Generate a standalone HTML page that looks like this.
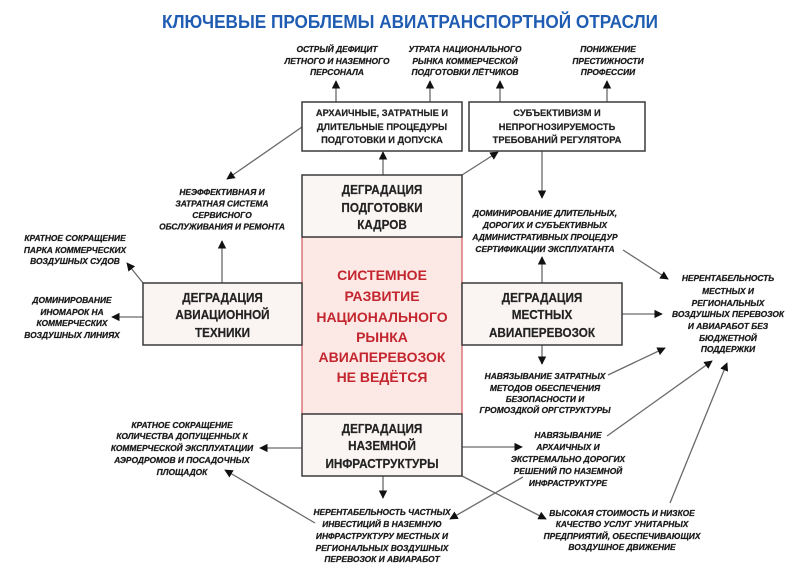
<!DOCTYPE html>
<html><head><meta charset="utf-8">
<style>
html,body{margin:0;padding:0;background:#fff;}
svg{display:block;}
.t{font-family:"Liberation Sans","DejaVu Sans",sans-serif;font-weight:bold;text-anchor:middle;}
.lb{font-size:8.4px;font-style:italic;fill:#1a1a1a;stroke:#1a1a1a;stroke-width:0.25;}
.bx{font-size:9.3px;fill:#222;stroke:#222;stroke-width:0.2;}
.dg{font-size:13.3px;fill:#222;stroke:#222;stroke-width:0.2;}
.rd{font-size:14px;fill:#c3262f;}
.ln{stroke:#6a6a6a;stroke-width:1.3;fill:none;}
</style></head>
<body>
<svg width="800" height="573" viewBox="0 0 800 573" xmlns="http://www.w3.org/2000/svg">
<defs>
<marker id="a" viewBox="0 0 10 10" refX="9" refY="5" markerWidth="8.5" markerHeight="8.5" markerUnits="userSpaceOnUse" orient="auto">
<path d="M0,0 L10,5 L0,10 z" fill="#111"/>
</marker>
</defs>

<!-- title -->
<text class="t" x="410" y="28" font-size="18" fill="#1f5cb2" textLength="496" lengthAdjust="spacingAndGlyphs">КЛЮЧЕВЫЕ ПРОБЛЕМЫ АВИАТРАНСПОРТНОЙ ОТРАСЛИ</text>

<!-- connectors -->
<g class="ln" marker-end="url(#a)">
<line x1="336" y1="102" x2="336" y2="81"/>
<line x1="430" y1="102" x2="430" y2="81"/>
<line x1="500" y1="102" x2="500" y2="81"/>
<line x1="607" y1="102" x2="607" y2="81"/>
<line x1="383" y1="175" x2="383" y2="152"/>
<line x1="462" y1="175" x2="498" y2="152"/>
<line x1="542" y1="151" x2="542" y2="198"/>
<line x1="302" y1="127" x2="227" y2="179"/>
<line x1="222" y1="283" x2="222" y2="241"/>
<line x1="143" y1="283" x2="127" y2="263"/>
<line x1="143" y1="317" x2="112" y2="317"/>
<line x1="542" y1="283" x2="542" y2="257"/>
<line x1="623" y1="250" x2="668" y2="279"/>
<line x1="622" y1="314" x2="662" y2="314"/>
<line x1="542" y1="345" x2="542" y2="364"/>
<line x1="608" y1="375" x2="665" y2="348"/>
<line x1="607" y1="436" x2="712" y2="361"/>
<line x1="670" y1="503" x2="727" y2="363"/>
<line x1="462" y1="447" x2="522" y2="447"/>
<line x1="523" y1="477" x2="450" y2="519"/>
<line x1="462" y1="476" x2="546" y2="519"/>
<line x1="383" y1="476" x2="383" y2="498"/>
<line x1="315" y1="523" x2="225" y2="470"/>
<line x1="302" y1="448" x2="260" y2="448"/>
</g>

<!-- top boxes -->
<rect x="302" y="102" width="160" height="49" fill="#fff" stroke="#3a3a3a" stroke-width="1.5"/>
<rect x="469" y="102" width="176" height="49" fill="#fff" stroke="#3a3a3a" stroke-width="1.5"/>
<g class="t bx">
<text x="382" y="116">АРХАИЧНЫЕ, ЗАТРАТНЫЕ И</text>
<text x="382" y="130">ДЛИТЕЛЬНЫЕ ПРОЦЕДУРЫ</text>
<text x="382" y="143">ПОДГОТОВКИ И ДОПУСКА</text>
<text x="557" y="116">СУБЪЕКТИВИЗМ И</text>
<text x="557" y="130">НЕПРОГНОЗИРУЕМОСТЬ</text>
<text x="557" y="143">ТРЕБОВАНИЙ РЕГУЛЯТОРА</text>
</g>

<!-- center stack -->
<rect x="302" y="237" width="160" height="177" fill="#fce9e5" stroke="#d2575a" stroke-width="1.2"/>
<rect x="302" y="175" width="160" height="62" fill="#faf6f4" stroke="#3a3a3a" stroke-width="1.5"/>
<rect x="302" y="414" width="160" height="62" fill="#faf4f2" stroke="#3a3a3a" stroke-width="1.5"/>
<!-- side boxes -->
<rect x="143" y="283" width="159" height="62" fill="#faf4f2" stroke="#3a3a3a" stroke-width="1.5"/>
<rect x="462" y="283" width="160" height="62" fill="#faf4f2" stroke="#3a3a3a" stroke-width="1.5"/>

<g class="t dg">
<g transform="translate(382,0) scale(0.88,1)">
<text x="0" y="194">ДЕГРАДАЦИЯ</text>
<text x="0" y="212">ПОДГОТОВКИ</text>
<text x="0" y="229">КАДРОВ</text>
<text x="0" y="433">ДЕГРАДАЦИЯ</text>
<text x="0" y="450">НАЗЕМНОЙ</text>
<text x="0" y="468">ИНФРАСТРУКТУРЫ</text>
</g>
<g transform="translate(222.5,0) scale(0.88,1)">
<text x="0" y="302">ДЕГРАДАЦИЯ</text>
<text x="0" y="319">АВИАЦИОННОЙ</text>
<text x="0" y="337">ТЕХНИКИ</text>
</g>
<g transform="translate(542,0) scale(0.88,1)">
<text x="0" y="302">ДЕГРАДАЦИЯ</text>
<text x="0" y="319">МЕСТНЫХ</text>
<text x="0" y="337">АВИАПЕРЕВОЗОК</text>
</g>
</g>

<g class="t rd">
<text x="382" y="280">СИСТЕМНОЕ</text>
<text x="382" y="301">РАЗВИТИЕ</text>
<text x="382" y="322">НАЦИОНАЛЬНОГО</text>
<text x="382" y="342">РЫНКА</text>
<text x="382" y="362">АВИАПЕРЕВОЗОК</text>
<text x="382" y="382">НЕ ВЕДЁТСЯ</text>
</g>

<!-- labels -->
<g class="t lb">
<text x="337" y="52">ОСТРЫЙ ДЕФИЦИТ</text>
<text x="337" y="64">ЛЕТНОГО И НАЗЕМНОГО</text>
<text x="337" y="75">ПЕРСОНАЛА</text>

<text x="465" y="52">УТРАТА НАЦИОНАЛЬНОГО</text>
<text x="465" y="64">РЫНКА КОММЕРЧЕСКОЙ</text>
<text x="465" y="75">ПОДГОТОВКИ ЛЁТЧИКОВ</text>

<text x="608" y="52">ПОНИЖЕНИЕ</text>
<text x="608" y="64">ПРЕСТИЖНОСТИ</text>
<text x="608" y="75">ПРОФЕССИИ</text>

<text x="222" y="195">НЕЭФФЕКТИВНАЯ И</text>
<text x="222" y="206.5">ЗАТРАТНАЯ СИСТЕМА</text>
<text x="222" y="218">СЕРВИСНОГО</text>
<text x="222" y="229.5">ОБСЛУЖИВАНИЯ И РЕМОНТА</text>

<text x="75" y="241">КРАТНОЕ СОКРАЩЕНИЕ</text>
<text x="75" y="253">ПАРКА КОММЕРЧЕСКИХ</text>
<text x="75" y="264">ВОЗДУШНЫХ СУДОВ</text>

<text x="72" y="303">ДОМИНИРОВАНИЕ</text>
<text x="72" y="315">ИНОМАРОК НА</text>
<text x="72" y="326">КОММЕРЧЕСКИХ</text>
<text x="72" y="338">ВОЗДУШНЫХ ЛИНИЯХ</text>

<text x="545" y="216">ДОМИНИРОВАНИЕ ДЛИТЕЛЬНЫХ,</text>
<text x="545" y="228">ДОРОГИХ И СУБЪЕКТИВНЫХ</text>
<text x="545" y="240">АДМИНИСТРАТИВНЫХ ПРОЦЕДУР</text>
<text x="545" y="252">СЕРТИФИКАЦИИ ЭКСПЛУАТАНТА</text>

<text x="728" y="281">НЕРЕНТАБЕЛЬНОСТЬ</text>
<text x="728" y="294">МЕСТНЫХ И</text>
<text x="728" y="306">РЕГИОНАЛЬНЫХ</text>
<text x="728" y="317">ВОЗДУШНЫХ ПЕРЕВОЗОК</text>
<text x="728" y="329">И АВИАРАБОТ БЕЗ</text>
<text x="728" y="341">БЮДЖЕТНОЙ</text>
<text x="728" y="352">ПОДДЕРЖКИ</text>

<text x="545" y="379">НАВЯЗЫВАНИЕ ЗАТРАТНЫХ</text>
<text x="545" y="391">МЕТОДОВ ОБЕСПЕЧЕНИЯ</text>
<text x="545" y="402">БЕЗОПАСНОСТИ И</text>
<text x="545" y="413">ГРОМОЗДКОЙ ОРГСТРУКТУРЫ</text>

<text x="568" y="438">НАВЯЗЫВАНИЕ</text>
<text x="568" y="450">АРХАИЧНЫХ И</text>
<text x="568" y="462">ЭКСТРЕМАЛЬНО ДОРОГИХ</text>
<text x="568" y="474">РЕШЕНИЙ ПО НАЗЕМНОЙ</text>
<text x="568" y="486">ИНФРАСТРУКТУРЕ</text>

<text x="622" y="516">ВЫСОКАЯ СТОИМОСТЬ И НИЗКОЕ</text>
<text x="622" y="527">КАЧЕСТВО УСЛУГ УНИТАРНЫХ</text>
<text x="622" y="539">ПРЕДПРИЯТИЙ, ОБЕСПЕЧИВАЮЩИХ</text>
<text x="622" y="550">ВОЗДУШНОЕ ДВИЖЕНИЕ</text>

<text x="382" y="515">НЕРЕНТАБЕЛЬНОСТЬ ЧАСТНЫХ</text>
<text x="382" y="527">ИНВЕСТИЦИЙ В НАЗЕМНУЮ</text>
<text x="382" y="539">ИНФРАСТРУКТУРУ МЕСТНЫХ И</text>
<text x="382" y="551">РЕГИОНАЛЬНЫХ ВОЗДУШНЫХ</text>
<text x="382" y="562">ПЕРЕВОЗОК И АВИАРАБОТ</text>

<text x="182" y="428">КРАТНОЕ СОКРАЩЕНИЕ</text>
<text x="182" y="439">КОЛИЧЕСТВА ДОПУЩЕННЫХ К</text>
<text x="182" y="451">КОММЕРЧЕСКОЙ ЭКСПЛУАТАЦИИ</text>
<text x="182" y="463">АЭРОДРОМОВ И ПОСАДОЧНЫХ</text>
<text x="182" y="475">ПЛОЩАДОК</text>
</g>
</svg>
</body></html>
